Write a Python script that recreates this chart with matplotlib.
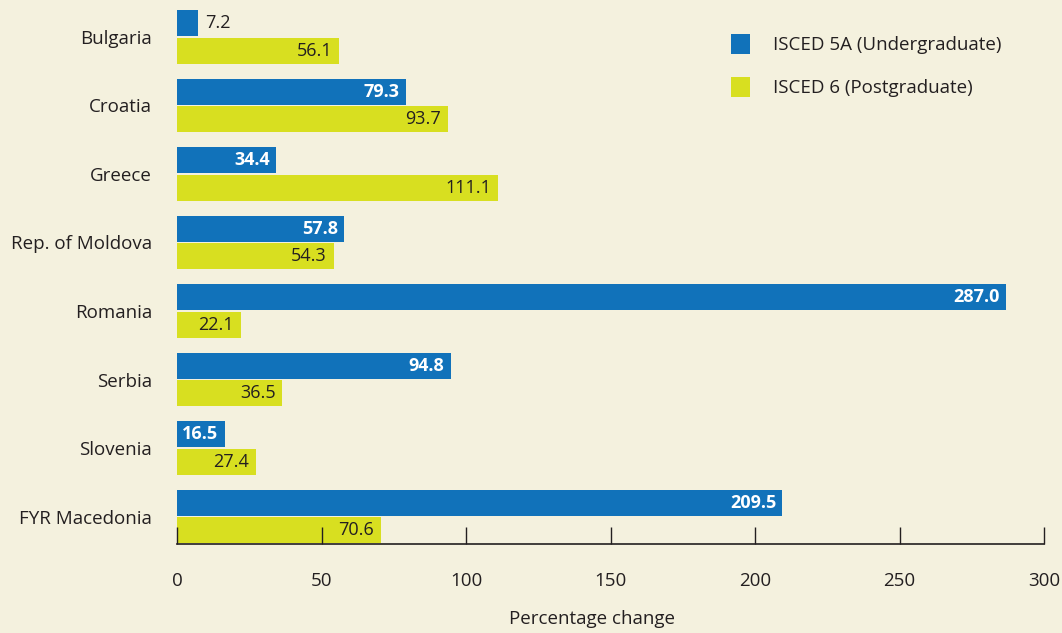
import matplotlib
matplotlib.use("Agg")
import matplotlib.pyplot as plt
import numpy as np

countries = ["Bulgaria", "Croatia", "Greece", "Rep. of Moldova", "Romania",
             "Serbia", "Slovenia", "FYR Macedonia"]
undergrad = [7.2, 79.3, 34.4, 57.8, 287.0, 94.8, 16.5, 209.5]
postgrad = [56.1, 93.7, 111.1, 54.3, 22.1, 36.5, 27.4, 70.6]
series_names = ["ISCED 5A (Undergraduate)", "ISCED 6 (Postgraduate)"]
xticks = [0, 50, 100, 150, 200, 250, 300]

BG = "#f4f1de"
BLUE = "#1172ba"
YELLOW = "#d8df20"
TXT = "#231f20"

plt.rcParams['font.family'] = ['Open Sans', 'DejaVu Sans']

fig = plt.figure(figsize=(10.62, 6.33), dpi=100, facecolor=BG)
ax = fig.add_axes([177/1062, (633-544)/633, (1044-177)/1062, 538/633])
ax.set_facecolor(BG)

y = np.arange(len(countries))
h = 0.38
off = 0.2
b1 = ax.barh(y - off, undergrad, height=h, color=BLUE, label=series_names[0])
b2 = ax.barh(y + off, postgrad, height=h, color=YELLOW, label=series_names[1])

for yi, v in zip(y, undergrad):
    if v < 12:
        ax.text(v + 2.5, yi - off, f"{v:.1f}", va="center", ha="left",
                fontsize=13, color=TXT)
    else:
        ax.text(v - 2.2, yi - off, f"{v:.1f}", va="center", ha="right",
                fontsize=13, color="white", fontweight="bold")
for yi, v in zip(y, postgrad):
    ax.text(v - 2.4, yi + off, f"{v:.1f}", va="center", ha="right",
            fontsize=13, color=TXT)

ax.set_xlim(0, 300)
ax.set_ylim(7.40, -0.45)
ax.set_yticks(y)
ax.set_yticklabels(countries, fontsize=13.5, color=TXT)
ax.tick_params(axis="y", length=0, pad=18)
ax.set_xticks(xticks)
ax.set_xticklabels([str(t) for t in xticks], fontsize=13.5, color=TXT)
ax.tick_params(axis="x", direction="in", length=12, width=1, color=TXT, pad=20)
for s in ["top", "right", "left"]:
    ax.spines[s].set_visible(False)
ax.spines["bottom"].set_color(TXT)
ax.spines["bottom"].set_linewidth(1.2)
ax.set_xlabel("Percentage change", fontsize=13.5, color=TXT)
ax.xaxis.set_label_coords((592 - 177) / (1044 - 177), -0.122)

leg = ax.legend(loc="upper left", bbox_to_anchor=(0.62, 0.98), frameon=False,
                fontsize=13.5, handlelength=1.0, handleheight=1.3,
                handletextpad=1.2, labelspacing=1.2)
for t in leg.get_texts():
    t.set_color(TXT)

fig.savefig("out.png", dpi=100, facecolor=BG)
